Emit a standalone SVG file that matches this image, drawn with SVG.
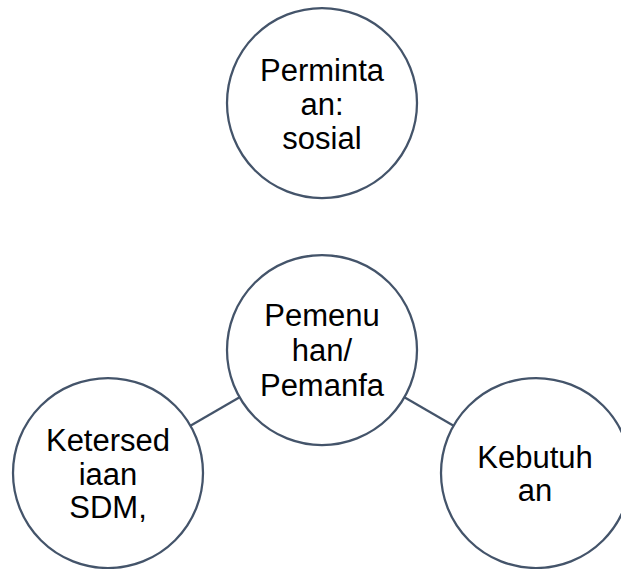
<svg xmlns="http://www.w3.org/2000/svg" width="621" height="569" viewBox="0 0 621 569">
<style>
.node circle{fill:#ffffff;stroke:#44546A;stroke-width:2.25}
.node text{font-family:"Liberation Sans",Arial,Helvetica,sans-serif;font-size:31px;fill:#000000;text-anchor:middle}
.edge{stroke:#44546A;stroke-width:2.25;fill:none}
</style>
<rect width="621" height="569" fill="#ffffff"/>
<g id="connectors">
<line class="edge" x1="190.4" y1="425.7" x2="239.6" y2="397.3"/>
<line class="edge" x1="404.4" y1="397.3" x2="453.6" y2="425.7"/>
</g>
<g id="node-permintaan" class="node">
<circle cx="322" cy="103" r="95"/>
<text x="322" y="81">Perminta</text>
<text x="322" y="115">an:</text>
<text x="322" y="149">sosial</text>
</g>
<g id="node-pemenuhan" class="node">
<circle cx="322" cy="350" r="95"/>
<text x="322" y="326">Pemenu</text>
<text x="322" y="361">han/</text>
<text x="322" y="396">Pemanfa</text>
</g>
<g id="node-ketersediaan" class="node">
<circle cx="108" cy="473" r="95"/>
<text x="108" y="451">Ketersed</text>
<text x="108" y="485">iaan</text>
<text x="108" y="518">SDM,</text>
</g>
<g id="node-kebutuhan" class="node">
<circle cx="536" cy="473" r="95"/>
<text x="535" y="468">Kebutuh</text>
<text x="535" y="501">an</text>
</g>
</svg>
